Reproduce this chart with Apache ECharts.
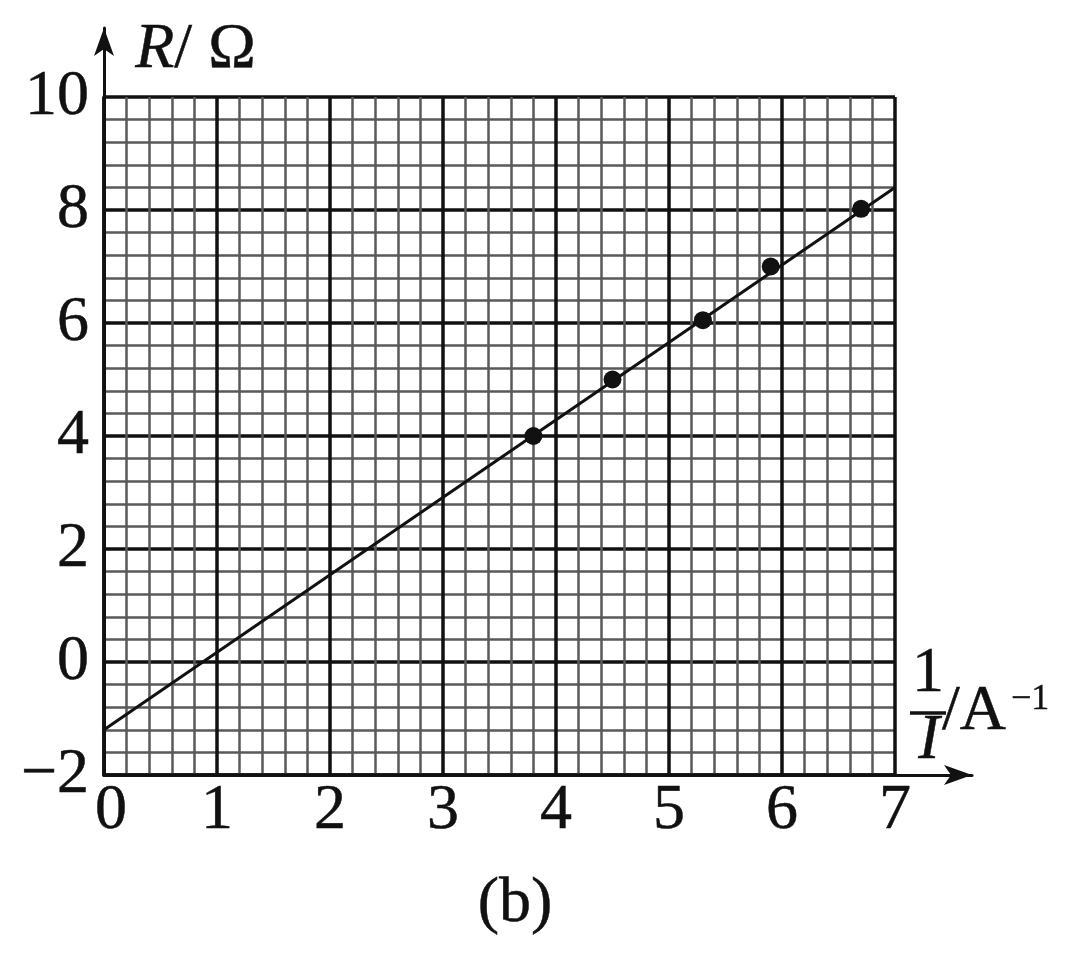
<!DOCTYPE html>
<html>
<head>
<meta charset="utf-8">
<script src="https://cdn.jsdelivr.net/npm/echarts@6/dist/echarts.min.js"></script>
<style>
  html, body { margin: 0; padding: 0; background: #fff; }
  #chart { width: 1080px; height: 954px; }
</style>
</head>
<body>
<div id="chart"></div>
<script>
// measured points: 1/I (A^-1) and R (ohm)
const invI = [3.8, 4.5, 5.3, 5.9, 6.7];
const resist = [4.0, 5.0, 6.05, 7.0, 8.02];
// fitted straight line end points
const fitX = [0, 7];
const fitR = [-1.2, 8.4];

const serif = "Liberation Serif";
const ink = "#111";

const chart = echarts.init(document.getElementById("chart"));

// very thin outline, the printed digits are a bit heavier than Times
const heavy = { textBorderColor: ink, textBorderWidth: 0.5 };

const option = {
  animation: false,
  backgroundColor: "#fff",
  grid: [
    // graph paper
    { left: 104, right: 185, top: 97, bottom: 179 },
    // longer axes carrying the arrows
    { left: 104, right: 108, top: 28, bottom: 179 }
  ],
  xAxis: [
    {
      type: "value",
      gridIndex: 0,
      min: 0,
      max: 7,
      interval: 1,
      axisLine: { show: true, onZero: false, lineStyle: { color: ink, width: 3.5 } },
      axisTick: { show: false },
      axisLabel: Object.assign({
        margin: 4,
        fontFamily: serif,
        fontSize: 64,
        color: ink,
        formatter: v => (v === 0 ? "{z|0}" : String(v)),
        rich: { z: Object.assign({ fontFamily: serif, fontSize: 64, color: ink, padding: [0, 0, 0, 14] }, heavy) }
      }, heavy),
      splitLine: { show: true, lineStyle: { color: ink, width: 3.5 } },
      minorTick: { show: false, splitNumber: 5 },
      minorSplitLine: { show: true, lineStyle: { color: "#5a5a5a", width: 2.5 } }
    },
    {
      type: "value",
      gridIndex: 1,
      min: 0,
      max: 1,
      axisLine: {
        show: true,
        onZero: false,
        symbol: ["none", "arrow"],
        symbolSize: [15, 28],
        lineStyle: { color: ink, width: 3 }
      },
      axisTick: { show: false },
      axisLabel: { show: false },
      splitLine: { show: false }
    }
  ],
  yAxis: [
    {
      type: "value",
      gridIndex: 0,
      min: -2,
      max: 10,
      interval: 2,
      axisLine: { show: true, onZero: false, lineStyle: { color: ink, width: 3.5 } },
      axisTick: { show: false },
      axisLabel: Object.assign({
        margin: 15,
        fontFamily: serif,
        fontSize: 64,
        color: ink,
        formatter: v => String(v).replace("-", "\u2212")
      }, heavy),
      splitLine: { show: true, lineStyle: { color: ink, width: 3.5 } },
      minorTick: { show: false, splitNumber: 5 },
      minorSplitLine: { show: true, lineStyle: { color: "#5a5a5a", width: 2.5 } }
    },
    {
      type: "value",
      gridIndex: 1,
      min: 0,
      max: 1,
      axisLine: {
        show: true,
        onZero: false,
        symbol: ["none", "arrow"],
        symbolSize: [15, 28],
        lineStyle: { color: ink, width: 3 }
      },
      axisTick: { show: false },
      axisLabel: { show: false },
      splitLine: { show: false }
    }
  ],
  series: [
    {
      type: "line",
      xAxisIndex: 0,
      yAxisIndex: 0,
      data: fitX.map((x, i) => [x, fitR[i]]),
      showSymbol: false,
      lineStyle: { color: ink, width: 3 },
      z: 3
    },
    {
      type: "scatter",
      xAxisIndex: 0,
      yAxisIndex: 0,
      data: invI.map((x, i) => [x, resist[i]]),
      symbol: "circle",
      symbolSize: 18,
      itemStyle: { color: ink, opacity: 1 },
      z: 4
    }
  ],
  graphic: [
    {
      type: "text",
      left: 135,
      top: 18,
      style: {
        text: "{i|R}{n|/ \u03a9}",
        rich: {
          i: { fontFamily: serif, fontStyle: "italic", fontSize: 64, fill: ink, stroke: ink, lineWidth: 0.5 },
          n: { fontFamily: serif, fontSize: 64, fill: ink, stroke: ink, lineWidth: 0.5 }
        }
      }
    },
    {
      type: "text",
      x: 928,
      y: 674,
      style: { text: "1", fontFamily: serif, fontSize: 64, fill: ink, stroke: ink, lineWidth: 0.5, align: "center", verticalAlign: "middle" }
    },
    {
      type: "line",
      shape: { x1: 910, y1: 713, x2: 946, y2: 713 },
      style: { stroke: ink, lineWidth: 3.5 }
    },
    {
      type: "text",
      x: 929,
      y: 741,
      style: { text: "I", fontFamily: serif, fontStyle: "italic", fontSize: 64, fill: ink, stroke: ink, lineWidth: 0.5, align: "center", verticalAlign: "middle" }
    },
    {
      type: "text",
      x: 942,
      y: 712,
      style: { text: "/A", fontFamily: serif, fontSize: 64, fill: ink, stroke: ink, lineWidth: 0.5, verticalAlign: "middle" }
    },
    {
      type: "text",
      x: 1011,
      y: 700,
      style: { text: "\u22121", fontFamily: serif, fontSize: 36, fill: ink, stroke: ink, lineWidth: 0.4, verticalAlign: "middle" }
    },
    {
      type: "text",
      x: 515,
      y: 904,
      style: { text: "(b)", fontFamily: serif, fontSize: 64, fill: ink, stroke: ink, lineWidth: 0.5, align: "center", verticalAlign: "middle" }
    }
  ]
};

chart.setOption(option);
</script>
</body>
</html>
